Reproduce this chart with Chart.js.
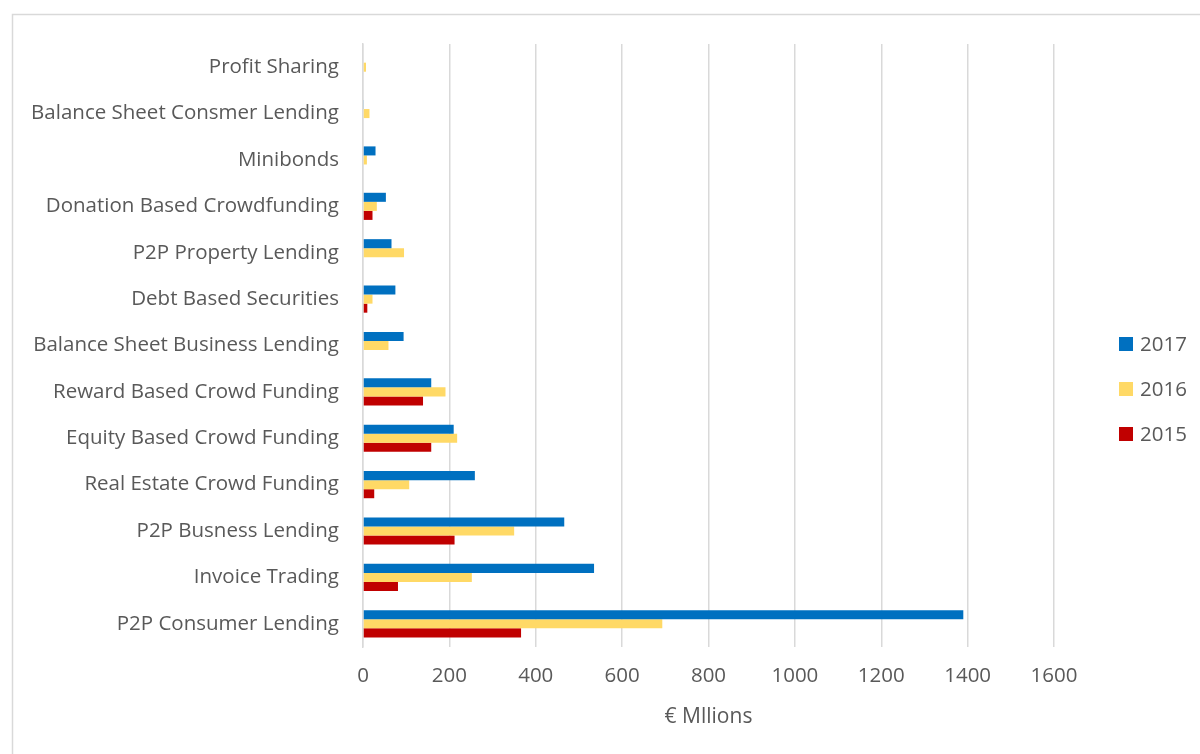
<!DOCTYPE html>
<html>
<head>
<meta charset="utf-8">
<script src="https://cdn.jsdelivr.net/npm/chart.js@4/dist/chart.umd.min.js"></script>
<style>
html,body{margin:0;padding:0;background:#fff;}
#wrap{position:relative;width:1200px;height:754px;}
</style>
</head>
<body>
<div id="wrap"><canvas id="c" width="1200" height="754"></canvas></div>
<script>
const categories = [
  "Profit Sharing",
  "Balance Sheet Consmer Lending",
  "Minibonds",
  "Donation Based Crowdfunding",
  "P2P Property Lending",
  "Debt Based Securities",
  "Balance Sheet Business Lending",
  "Reward Based Crowd Funding",
  "Equity Based Crowd Funding",
  "Real Estate Crowd Funding",
  "P2P Busness Lending",
  "Invoice Trading",
  "P2P Consumer Lending"
];
const values2017 = [0, 2, 29, 53, 66, 75, 94, 158, 210, 259, 466, 535, 1390];
const values2016 = [7, 15, 9, 32, 95, 22, 59, 191, 218, 107, 350, 252, 693];
const values2015 = [0, 0, 0, 22, 0, 10, 0, 139, 158, 26, 212, 81, 366];
const xTicks = [0, 200, 400, 600, 800, 1000, 1200, 1400, 1600];
const axisTitle = "€ Mllions";

const FONT = "'Open Sans', 'DejaVu Sans', sans-serif";
const TXT = "#595959";

const frame = {
  id: 'frame',
  beforeDraw(chart) {
    const ctx = chart.ctx;
    ctx.save();
    ctx.fillStyle = '#fff';
    ctx.fillRect(0, 0, chart.width, chart.height);
    ctx.strokeStyle = '#d9d9d9';
    ctx.lineWidth = 1.5;
    ctx.beginPath();
    ctx.moveTo(12.5, chart.height + 5);
    ctx.lineTo(12.5, 14.5);
    ctx.lineTo(chart.width + 5, 14.5);
    ctx.stroke();
    ctx.restore();
  }
};

const sideLegend = {
  id: 'sideLegend',
  afterDraw(chart) {
    const ctx = chart.ctx;
    ctx.save();
    ctx.font = "20.5px " + FONT;
    ctx.textBaseline = 'middle';
    ctx.textAlign = 'left';
    chart.data.datasets.forEach((ds, i) => {
      const cy = 344 + i * 45;
      ctx.fillStyle = ds.backgroundColor;
      ctx.fillRect(1119, cy - 7, 14, 14);
      ctx.fillStyle = TXT;
      ctx.fillText(ds.label, 1140, cy + 1);
    });
    ctx.restore();
  }
};

new Chart(document.getElementById('c'), {
  type: 'bar',
  data: {
    labels: categories,
    datasets: [
      { label: '2017', data: values2017, backgroundColor: '#0070C0' },
      { label: '2016', data: values2016, backgroundColor: '#FFD966' },
      { label: '2015', data: values2015, backgroundColor: '#C00000' }
    ]
  },
  options: {
    indexAxis: 'y',
    responsive: false,
    animation: false,
    devicePixelRatio: 1,
    layout: { padding: { left: 0, right: 146, top: 44, bottom: 0 } },
    datasets: { bar: { categoryPercentage: 0.585, barPercentage: 1.0 } },
    plugins: {
      legend: { display: false },
      tooltip: { enabled: false }
    },
    scales: {
      x: {
        type: 'linear',
        min: 0,
        max: 1600,
        afterBuildTicks(scale) { scale.ticks = xTicks.map(v => ({ value: v })); },
        afterFit(scale) { scale.height = 107; },
        ticks: { color: TXT, font: { family: FONT, size: 20.5 }, padding: 17, callback: v => String(v) },
        grid: { color: '#d9d9d9', lineWidth: 1.5, drawTicks: false },
        border: { display: false },
        title: { display: true, text: axisTitle, color: TXT, font: { family: FONT, size: 21 }, padding: { top: 12, bottom: 24 } }
      },
      y: {
        afterFit(scale) { scale.width = 363; },
        ticks: { color: TXT, font: { family: FONT, size: 20.5 }, padding: 16 },
        grid: { display: false },
        border: { display: true, color: '#d9d9d9', width: 1.5 }
      }
    }
  },
  plugins: [frame, sideLegend]
});
</script>
</body>
</html>
